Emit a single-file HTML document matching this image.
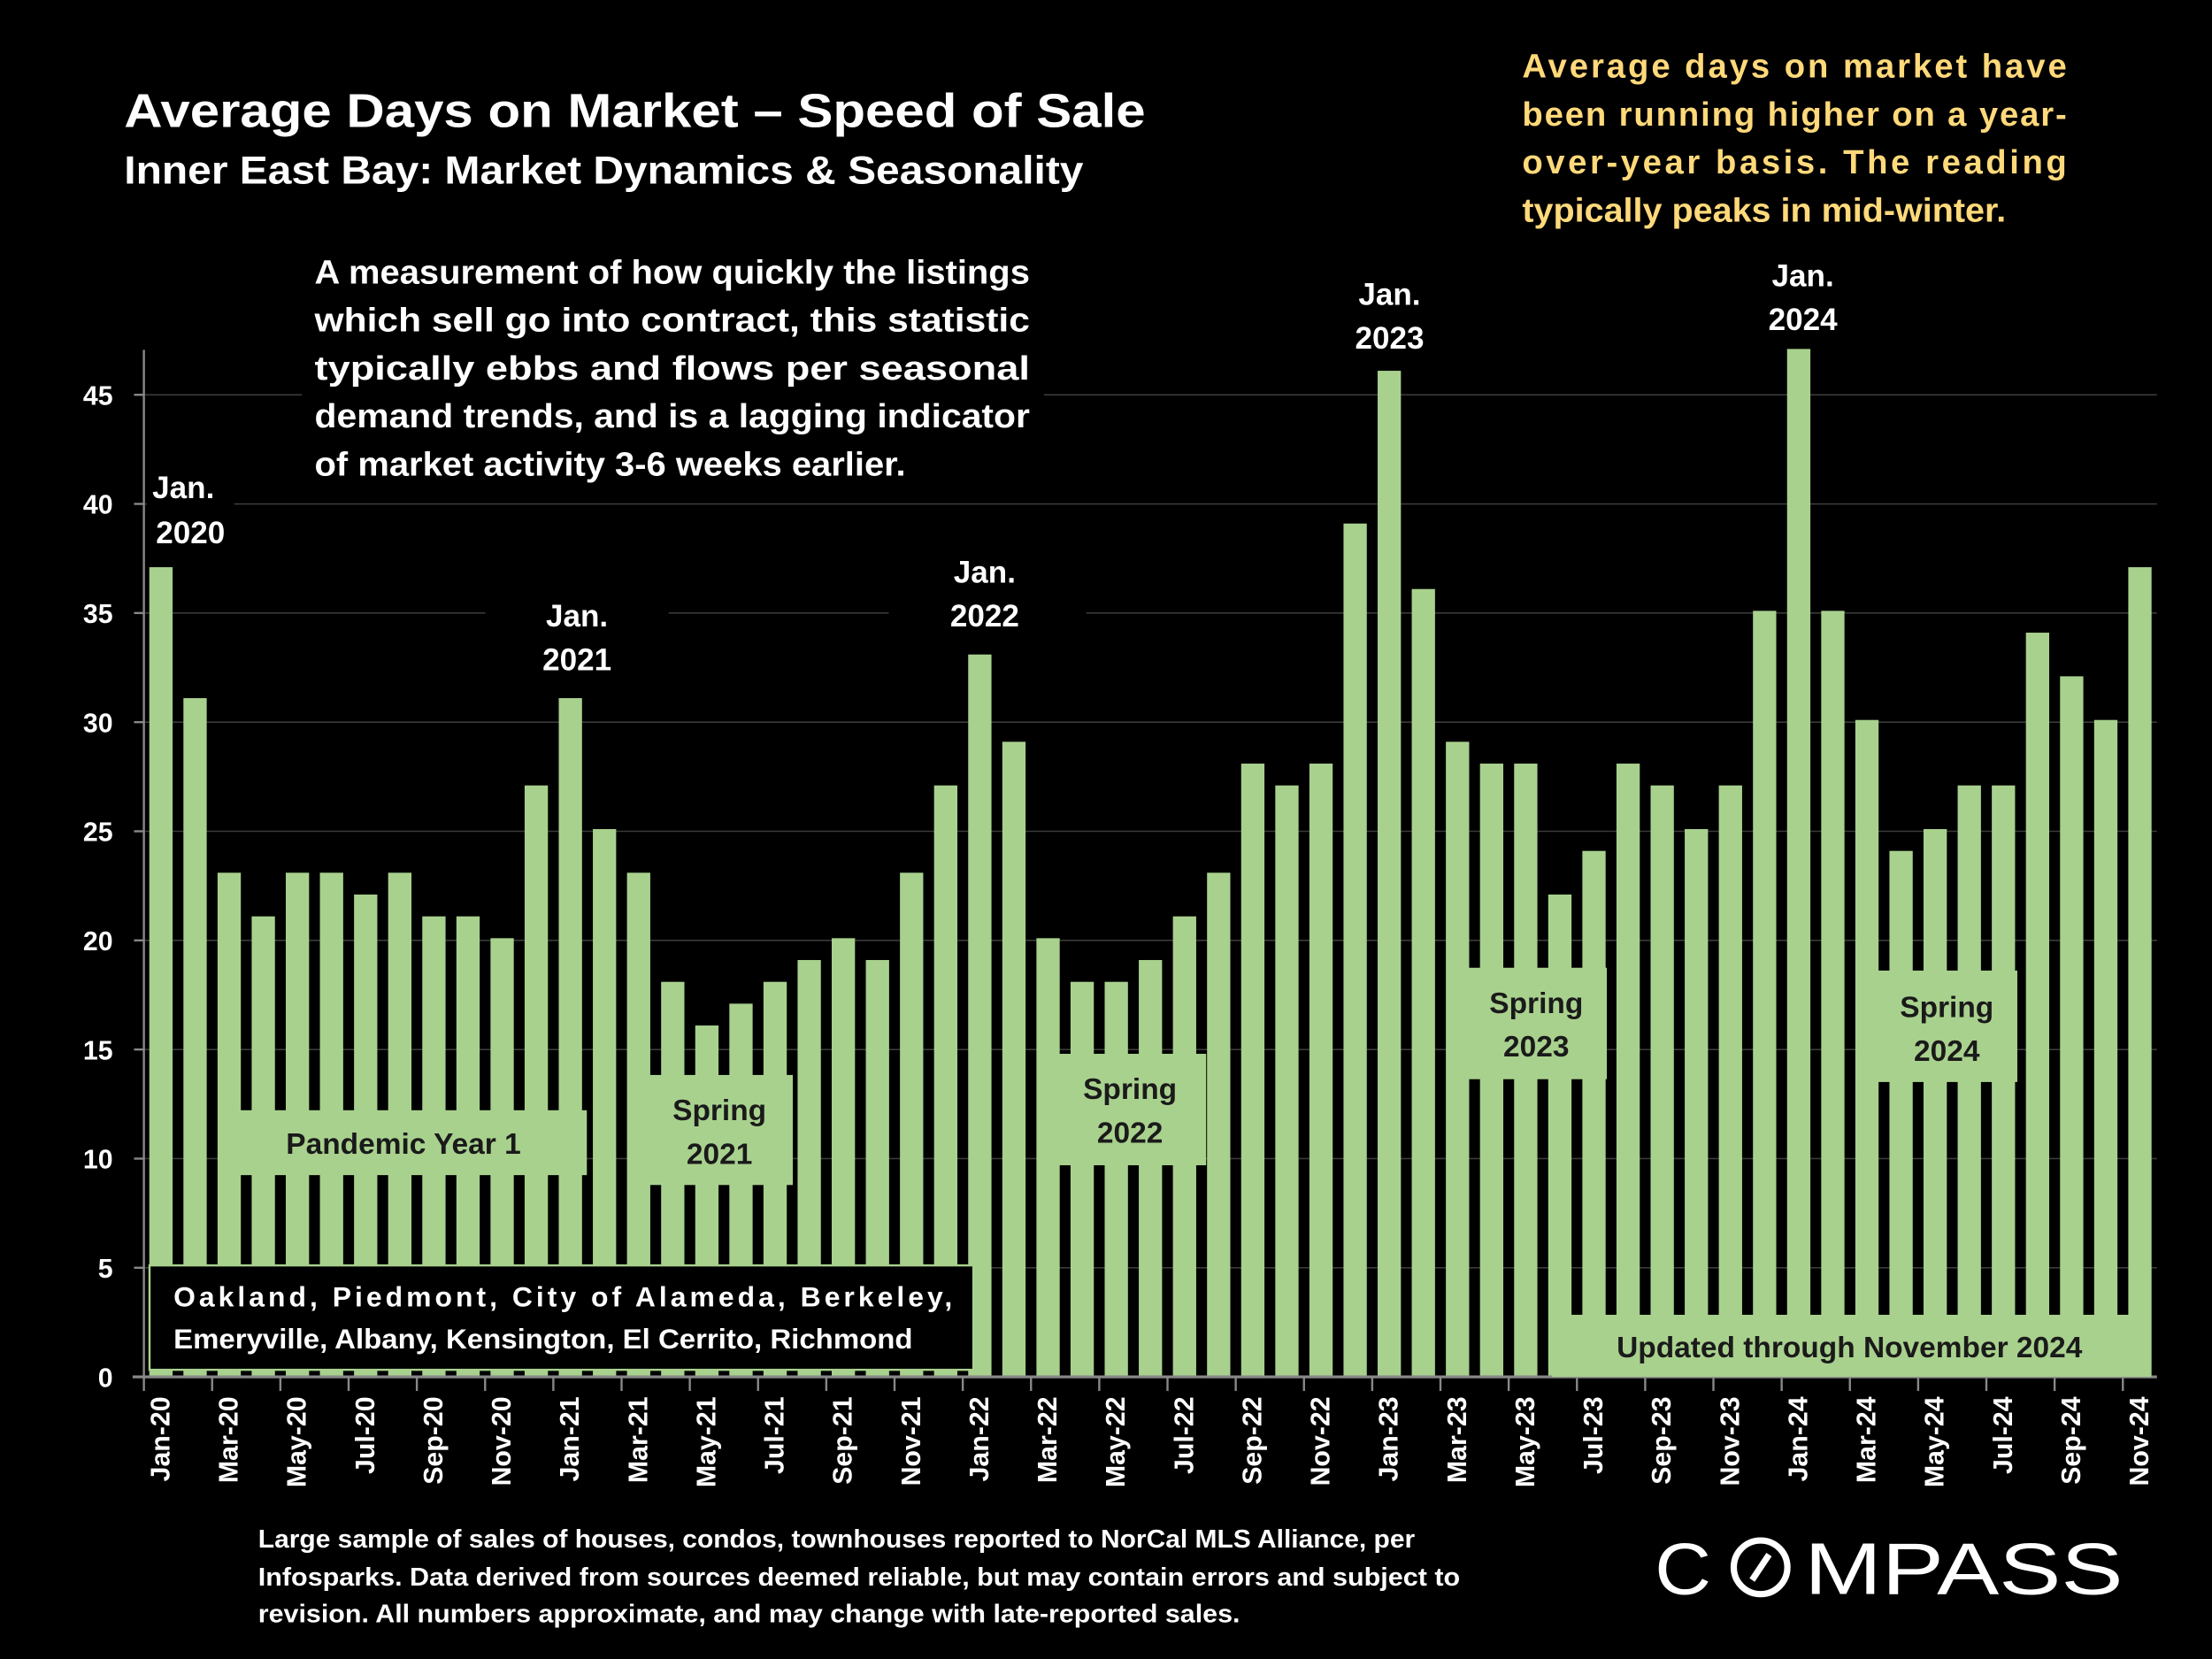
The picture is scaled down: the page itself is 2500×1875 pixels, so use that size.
<!DOCTYPE html>
<html><head><meta charset="utf-8"><style>
html,body{margin:0;padding:0;background:#000;}
svg{display:block;font-family:"Liberation Sans",sans-serif;font-weight:bold;}
</style></head><body>
<svg id="chart" width="2500" height="1875" viewBox="0 0 1568 1176" preserveAspectRatio="none" xmlns="http://www.w3.org/2000/svg">
<rect x="0" y="0" width="1568" height="1176" fill="#000"/>
<g id="grid"></g>
<g id="bars"></g>
<g id="axes"></g>

<text x="88" y="90" fill="#fff" font-size="34" textLength="724" lengthAdjust="spacingAndGlyphs">Average Days on Market – Speed of Sale</text>
<text x="88" y="130" fill="#fff" font-size="28" textLength="680" lengthAdjust="spacingAndGlyphs">Inner East Bay: Market Dynamics &amp; Seasonality</text>

<g fill="#ffd97a" font-size="24">
<text x="1079" y="55" textLength="386" lengthAdjust="spacing">Average days on market have</text>
<text x="1079" y="89" textLength="386" lengthAdjust="spacing">been running higher on a year-</text>
<text x="1079" y="123" textLength="386" lengthAdjust="spacing">over-year basis. The reading</text>
<text x="1079" y="157" textLength="343" lengthAdjust="spacingAndGlyphs">typically peaks in mid-winter.</text>
</g>

<rect x="214" y="172" width="526" height="176" fill="#000"/>
<g fill="#fff" font-size="24">
<text x="223" y="201" textLength="507" lengthAdjust="spacingAndGlyphs">A measurement of how quickly the listings</text>
<text x="223" y="235" textLength="507" lengthAdjust="spacingAndGlyphs">which sell go into contract, this statistic</text>
<text x="223" y="269" textLength="507" lengthAdjust="spacingAndGlyphs">typically ebbs and flows per seasonal</text>
<text x="223" y="303" textLength="507" lengthAdjust="spacingAndGlyphs">demand trends, and is a lagging indicator</text>
<text x="223" y="337" textLength="419" lengthAdjust="spacingAndGlyphs">of market activity 3-6 weeks earlier.</text>
</g>

<g id="janlabels" fill="#fff" font-size="22" text-anchor="middle">
<rect x="104" y="328" width="62" height="64" fill="#000"/>
<text x="130" y="353">Jan.</text><text x="135" y="385">2020</text>
<rect x="344" y="419" width="130" height="64" fill="#000"/>
<text x="409" y="444">Jan.</text><text x="409" y="475">2021</text>
<rect x="630" y="388" width="140" height="64" fill="#000"/>
<text x="698" y="413">Jan.</text><text x="698" y="444">2022</text>
<text x="985" y="216">Jan.</text><text x="985" y="247">2023</text>
<text x="1278" y="203">Jan.</text><text x="1278" y="234">2024</text>
</g>

<g fill="#a9d18e">
<rect x="155" y="787" width="261" height="46"/>
<rect x="459" y="762" width="103" height="78"/>
<rect x="737" y="747" width="118" height="79"/>
<rect x="1039" y="686" width="100" height="79"/>
<rect x="1331" y="688" width="99" height="79"/>
<rect x="1100" y="932" width="425" height="44"/>
</g>
<g fill="#1a1a1a" font-size="21" text-anchor="middle">
<text x="286" y="818">Pandemic Year 1</text>
<text x="510" y="794">Spring</text><text x="510" y="825">2021</text>
<text x="801" y="779">Spring</text><text x="801" y="810">2022</text>
<text x="1089" y="718">Spring</text><text x="1089" y="749">2023</text>
<text x="1380" y="721">Spring</text><text x="1380" y="752">2024</text>
<text x="1311" y="962">Updated through November 2024</text>
</g>

<rect x="106" y="897" width="584" height="74" fill="#000" stroke="#a9d18e" stroke-width="1.5"/>
<g fill="#fff" font-size="20">
<text x="123" y="926" textLength="552" lengthAdjust="spacing">Oakland, Piedmont, City of Alameda, Berkeley,</text>
<text x="123" y="956" textLength="524" lengthAdjust="spacingAndGlyphs">Emeryville, Albany, Kensington, El Cerrito, Richmond</text>
</g>

<g fill="#fff" font-size="18">
<text x="183" y="1097" textLength="820" lengthAdjust="spacingAndGlyphs">Large sample of sales of houses, condos, townhouses reported to NorCal MLS Alliance, per</text>
<text x="183" y="1124" textLength="852" lengthAdjust="spacingAndGlyphs">Infosparks. Data derived from sources deemed reliable, but may contain errors and subject to</text>
<text x="183" y="1150" textLength="696" lengthAdjust="spacingAndGlyphs">revision. All numbers approximate, and may change with late-reported sales.</text>
</g>

<g>
<text x="1173" y="1130" fill="#fff" font-size="52" font-weight="normal" textLength="40" lengthAdjust="spacingAndGlyphs">C</text>
<circle cx="1248" cy="1111" r="19" fill="none" stroke="#fff" stroke-width="4.5"/>
<line x1="1242" y1="1120" x2="1254" y2="1102" stroke="#fff" stroke-width="4.5"/>
<text x="1279" y="1130" fill="#fff" font-size="52" font-weight="normal" textLength="226" lengthAdjust="spacingAndGlyphs">MPASS</text>
</g>

<script>
const months = ["Jan","Feb","Mar","Apr","May","Jun","Jul","Aug","Sep","Oct","Nov","Dec"];
const categories = [];
for (let y = 20; y <= 24; y++) for (let m = 0; m < 12; m++) { if (y === 24 && m > 10) break; categories.push(months[m] + "-" + y); }
const values = [37,31,23,21,23,23,22,23,21,21,20,27,
  31,25,23,18,16,17,18,19,20,19,23,27,
  33,29,20,18,18,19,21,23,28,27,28,39,
  46,36,29,28,28,22,24,28,27,25,27,35,
  47,35,30,24,25,27,27,34,32,30,37];
const yTicks = [0,5,10,15,20,25,30,35,40,45];

const NS = "http://www.w3.org/2000/svg";
const x0 = 102, x1 = 1529, yBase = 976, pxPerUnit = 15.47;
const step = (x1 - x0) / categories.length;
const barW = 16.5;
function xCenter(i){ return x0 + step * (i + 0.5); }
function yScale(v){ return yBase - v * pxPerUnit; }
function mk(tag, attrs, parent){ const e = document.createElementNS(NS, tag); for (const k in attrs) e.setAttribute(k, attrs[k]); parent.appendChild(e); return e; }

const grid = document.getElementById("grid");
const axes = document.getElementById("axes");
yTicks.forEach(t => {
  if (t > 0) {
    const gl = mk("line", {x1: x0, x2: x1, y1: yScale(t), y2: yScale(t), stroke: "#3a3a3a", "stroke-width": 1}, grid);
    
    
  }
  const lb = mk("text", {x: 80, y: yScale(t) + 7, fill: "#fff", "font-size": 19, "text-anchor": "end"}, axes);
  lb.textContent = t;
  
  
  mk("line", {x1: 95, x2: x0, y1: yScale(t), y2: yScale(t), stroke: "#888", "stroke-width": 1.5}, axes);
});
const yAxis = mk("line", {x1: x0, x2: x0, y1: 248, y2: yBase, stroke: "#888", "stroke-width": 1.5}, axes);



const bars = document.getElementById("bars");
values.forEach((v, i) => {
  const r = mk("rect", {x: xCenter(i) - barW/2, y: yScale(v + 0.1), width: barW, height: yBase - yScale(v + 0.1), fill: "#a9d18e"}, bars);
  
  
});

const xAxis = mk("line", {x1: 94, x2: x1, y1: yBase, y2: yBase, stroke: "#888", "stroke-width": 2}, axes);


for (let i = 0; i <= categories.length; i += 2) {
  mk("line", {x1: x0 + step * i, x2: x0 + step * i, y1: yBase, y2: yBase + 10, stroke: "#888", "stroke-width": 1.5}, axes);
}
categories.forEach((c, i) => {
  if (i % 2) return;
  const cx = xCenter(i) + 6;
  const t = mk("text", {x: cx, y: 990, fill: "#fff", "font-size": 19, "text-anchor": "end", transform: "rotate(-90 " + cx + " 990)"}, axes);
  t.textContent = c;
  
  
});
</script>
</svg>
</body></html>
